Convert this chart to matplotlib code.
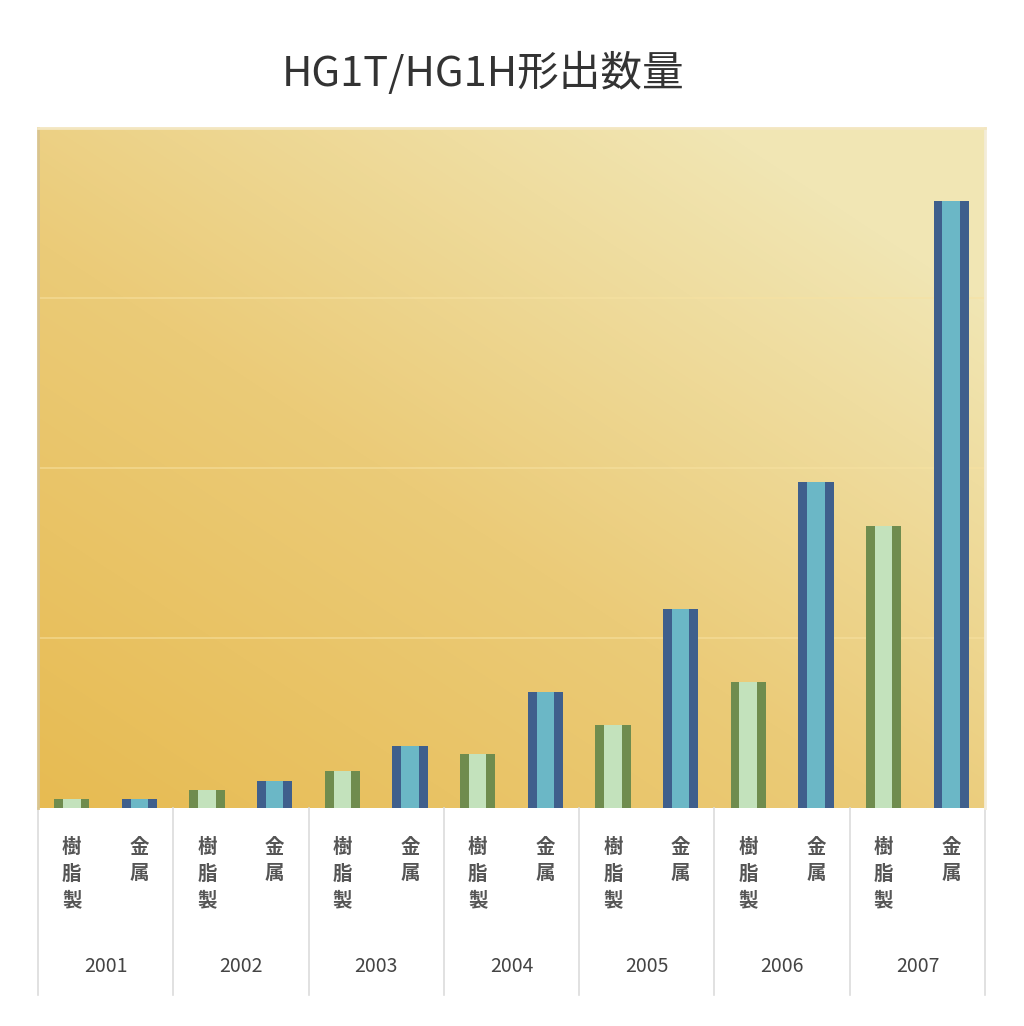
import numpy as np
import matplotlib
matplotlib.use("Agg")
import matplotlib.pyplot as plt
import matplotlib.colors as mcolors
import matplotlib.transforms as mtransforms

plt.rcParams['font.family'] = ['Noto Sans CJK JP', 'DejaVu Sans']

# --- data (gridline step = 10000) ---
years = ['2001', '2002', '2003', '2004', '2005', '2006', '2007']
types = ['樹脂製', '金属']
resin = [500, 1050, 2200, 3200, 4900, 7400, 16600]
metal = [550, 1600, 3650, 6800, 11700, 19200, 35700]
title = 'HG1T/HG1H形出数量'

# interleave into 14 slots: resin, metal, resin, metal ...
values = []
for r, m in zip(resin, metal):
    values += [r, m]
x = np.arange(len(values))
is_metal = np.array([i % 2 == 1 for i in range(len(values))])

fig = plt.figure(figsize=(10.24, 10.26), dpi=100)
ax = fig.add_axes([0.037, 0.2125, 0.925, 0.6625])

xmin, xmax = -0.5, len(values) - 0.5
ymax = 40000
ax.set_xlim(xmin, xmax)
ax.set_ylim(0, ymax)

# background gradient: saturated orange bottom-left -> pale cream top-right
gx, gy = np.meshgrid(np.linspace(0, 1, 200), np.linspace(1, 0, 200))
t = np.clip(0.55 * gx + 0.6 * gy, 0, 1)
bg_cmap = mcolors.LinearSegmentedColormap.from_list(
    'bg', ['#e7bb52', '#ebcb78', '#f1e6b4'])
ax.imshow(t, cmap=bg_cmap, extent=(xmin, xmax, 0, ymax),
          aspect='auto', zorder=0, interpolation='bilinear')

# faint light gridlines
for gyv in range(10000, ymax, 10000):
    ax.axhline(gyv, color='#f7e2a2', lw=1.2, alpha=0.6, zorder=1)

# bars: dark outer bar with lighter inner strip
outer = np.where(is_metal, '#3f5f8c', '#6f8c4e')
inner = np.where(is_metal, '#6bb7c6', '#c3e2bc')
ax.bar(x, values, width=0.52, color=outer, zorder=2)
ax.bar(x, values, width=0.26, color=inner, zorder=3)

ax.spines['bottom'].set_visible(False)
ax.spines['left'].set_color('#d9c48e')
ax.spines['top'].set_color('#f3e6c0')
ax.spines['right'].set_color('#f3ecd8')
for side in ['left', 'top', 'right']:
    ax.spines[side].set_linewidth(2)
ax.set_xticks([])
ax.set_yticks([])

# category table below the plot
trans = mtransforms.blended_transform_factory(ax.transData, ax.transAxes)
for i in range(len(values)):
    label = types[i % 2]
    ax.text(x[i], -0.044, '\n'.join(label), transform=trans,
            ha='center', va='top', fontsize=14, color='#555555',
            fontweight='bold', linespacing=1.5)
for j, yr in enumerate(years):
    ax.text(2 * j + 0.5, -0.233, yr, transform=trans, ha='center',
            va='center', fontsize=14, color='#444444')
for k in range(len(years) + 1):
    ax.plot([2 * k - 0.5] * 2, [0, -0.275], transform=trans,
            color='#dcdcdc', lw=1.2, clip_on=False)

fig.text(0.472, 0.928, title, ha='center', va='center',
         fontsize=30, color='#333333')

fig.savefig('out.png', dpi=100, facecolor='white')
